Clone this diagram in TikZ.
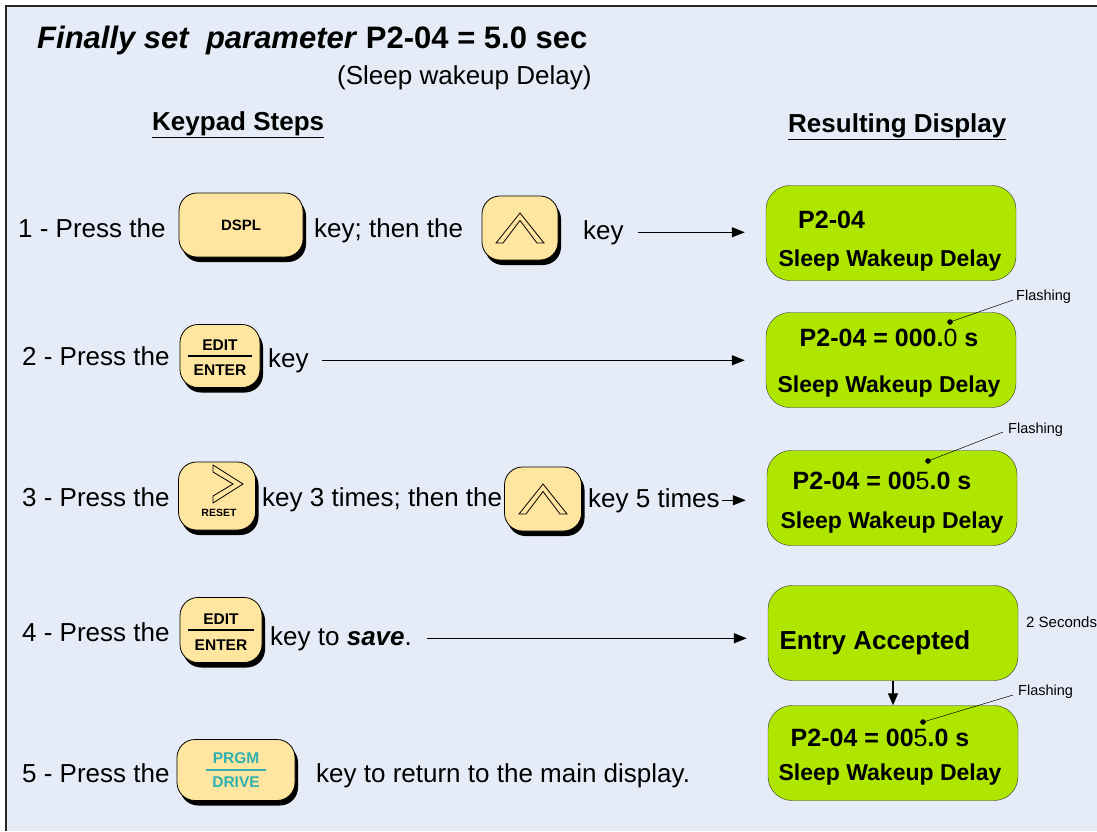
\documentclass[tikz,border=0pt]{standalone}
\usepackage{fontspec}
\setmainfont{Liberation Sans}
\usetikzlibrary{arrows.meta}
\definecolor{panelbg}{HTML}{E6ECF7}
\definecolor{keyfill}{HTML}{FFE6A0}
\definecolor{lcdgreen}{HTML}{AEE600}
\definecolor{prgmteal}{HTML}{2EB0AE}
\begin{document}
\begin{tikzpicture}[x=1pt,y=-1pt,%
    steptext/.style={anchor=base west,inner sep=0pt,font=\fontsize{26}{30}\selectfont},
    key/.style={draw,thick,rounded corners=18pt,fill=keyfill,inner sep=0pt,
      preaction={fill=black,transform canvas={shift={(3pt,-5pt)}}}},
    keylbl/.style={inner sep=0pt,font=\fontsize{15.5}{18}\selectfont\bfseries},
    lcd/.style={draw=black!80,fill=lcdgreen,rounded corners=24pt,minimum width=250pt,minimum height=95pt},
    lcdbig/.style={anchor=base,inner sep=0pt,font=\fontsize{25}{30}\selectfont\bfseries},
    lcdsmall/.style={anchor=base,inner sep=0pt,font=\fontsize{23}{28}\selectfont\bfseries},
    chev/.style={thick,line join=miter},
    arr/.style={-{Triangle[length=13pt,width=10pt]},line width=1.3pt,shorten >=21pt},
    note/.style={anchor=west,inner sep=0pt,font=\fontsize{14.5}{17}\selectfont}
  ]
		\useasboundingbox (0,0) rectangle (1097,831);
		\fill[panelbg] (6,6) rectangle (1097,831);
		\draw[line width=2pt,black!85] (6,831) -- (6,6) -- (1097,6);

		\node at (37,48) [anchor=base west,inner sep=0pt,font=\fontsize{31}{36}\selectfont\bfseries] (title)
			{\textit{Finally set\ \ parameter} P2-04 = 5.0 sec};
		\node at (337,84) [steptext] (subtitle) {(Sleep wakeup Delay)};
		\node at (152,130) [steptext,font=\fontsize{26}{30}\selectfont\bfseries] (hkeys) {\underline{Keypad Steps}};
		\node at (788,132) [steptext,font=\fontsize{26}{30}\selectfont\bfseries] (hdisp) {\underline{Resulting Display}};

		\node at (891,233) [lcd] (d1) {};
		\node at (798,228) [lcdbig,anchor=base west] (d1a) {P2-04};
		\node at (890,266) [lcdsmall] (d1b) {Sleep Wakeup Delay};

		\node at (891,360) [lcd] (d2) {};
		\node at (889,346) [lcdbig] (d2a) {P2-04 = 000.{\mdseries 0} s};
		\node at (889,392) [lcdsmall] (d2b) {Sleep Wakeup Delay};

		\node at (892,498) [lcd] (d3) {};
		\node at (882,489) [lcdbig] (d3a) {P2-04 = 00{\mdseries 5}.0 s};
		\node at (892,528) [lcdsmall] (d3b) {Sleep Wakeup Delay};

		\node at (893,633) [lcd] (d4) {};
		\node at (875,649) [lcdbig,font=\fontsize{26}{30}\selectfont\bfseries] (d4a) {Entry Accepted};

		\node at (893,753) [lcd] (d5) {};
		\node at (880,746) [lcdbig] (d5a) {P2-04 = 00{\mdseries 5}.0 s};
		\node at (890,780) [lcdsmall] (d5b) {Sleep Wakeup Delay};

		\node at (1016,297) [note] (fl2) {Flashing};
		\node at (1008,430) [note] (fl3) {Flashing};
		\node at (1026,622) [note,font=\fontsize{15}{17}\selectfont] (secs) {2 Seconds};
		\node at (1018,692) [note] (fl5) {Flashing};
		\coordinate (f2) at (950,322);
		\coordinate (f3) at (928,461);
		\coordinate (f5) at (923,722);
		\draw[fill] (f2) circle (2.5pt) -- ([xshift=-3pt,yshift=-3pt]fl2.west);
		\draw[fill] (f3) circle (2.5pt) -- ([xshift=-5pt,yshift=-2pt]fl3.west);
		\draw[fill] (f5) circle (2.5pt) -- ([xshift=-5pt,yshift=-3pt]fl5.west);

		\node at (18,237) [steptext] (t1a) {1 - Press the};
		\node at (241,225) [key,minimum width=124pt,minimum height=64pt] (dspl)
			{\fontsize{15}{17}\selectfont\bfseries DSPL};
		\node at (314,237) [steptext] (t1b) {key; then the};
		\node at (520,228) [key,minimum width=76pt,minimum height=64pt] (up1) {};
		\draw[chev,shift={(up1.center)}] (0,-15) -- (24,15) -- (17,15) -- (0,-7.5) -- (-17,15) -- (-24,15) -- cycle;
		\node at (583,239) [steptext] (t1c) {key};
		\draw[arr,shorten <=14pt] (t1c.east) -- (t1c.east -| d1.west);

		\node at (22,365) [steptext] (t2a) {2 - Press the};
		\node at (220,356) [key,minimum width=80pt,minimum height=63pt] (edit2) {};
		\node at (220,345) [keylbl] (edit2a) {EDIT};
		\node at (220,370) [keylbl] (edit2b) {ENTER};
		\draw[line width=1.5pt] ([xshift=-32pt]edit2.center) -- ([xshift=32pt]edit2.center);
		\node at (268,367) [steptext] (t2b) {key};
		\draw[arr,shorten <=13pt] (t2b.east) -- (t2b.east -| d2.west);

		\node at (22,506) [steptext] (t3a) {3 - Press the};
		\node at (217,496) [key,minimum width=77pt,minimum height=68pt] (reset) {};
		\draw[chev,shift={(reset.center)}] (-4,-31) -- (26,-12) -- (-4,7) -- (-4,0) -- (16,-12) -- (-4,-24) -- cycle;
		\node at (219,513) [keylbl,font=\fontsize{10.5}{12}\selectfont\bfseries] (resetlbl) {RESET};
		\node at (262,506) [steptext] (t3b) {key 3 times; then the};
		\node at (543,499) [key,minimum width=77pt,minimum height=64pt] (up3) {};
		\draw[chev,shift={(up3.center)}] (0,-15) -- (24,15) -- (17,15) -- (0,-7.5) -- (-17,15) -- (-24,15) -- cycle;
		\node at (588,507) [steptext] (t3c) {key 5 times};
		\draw[arr,shorten <=2pt] (t3c.east) -- (t3c.east -| d3.west);

		\node at (22,641) [steptext] (t4a) {4 - Press the};
		\node at (221,630) [key,minimum width=82pt,minimum height=65pt] (edit4) {};
		\node at (221,619) [keylbl] (edit4a) {EDIT};
		\node at (221,645) [keylbl] (edit4b) {ENTER};
		\draw[line width=1.5pt] ([xshift=-33pt]edit4.center) -- ([xshift=33pt]edit4.center);
		\node at (270,645) [steptext] (t4b) {key to \textbf{\textit{save}}.};
		\draw[arr,shorten <=15pt] (t4b.east) -- (t4b.east -| d4.west);

		\draw[-{Triangle[length=12pt,width=10pt]},line width=1.3pt] (d4.south) -- (d5.north);

		\node at (22,782) [steptext] (t5a) {5 - Press the};
		\node at (236,770) [key,minimum width=118pt,minimum height=61pt] (prgm) {};
		\node at (236,758) [keylbl,text=prgmteal] (prgma) {PRGM};
		\node at (236,782) [keylbl,text=prgmteal] (prgmb) {DRIVE};
		\draw[line width=1.5pt,prgmteal] ([xshift=-30pt]prgm.center) -- ([xshift=30pt]prgm.center);
		\node at (316,782) [steptext] (t5b) {key to return to the main display.};
\end{tikzpicture}
\end{document}
